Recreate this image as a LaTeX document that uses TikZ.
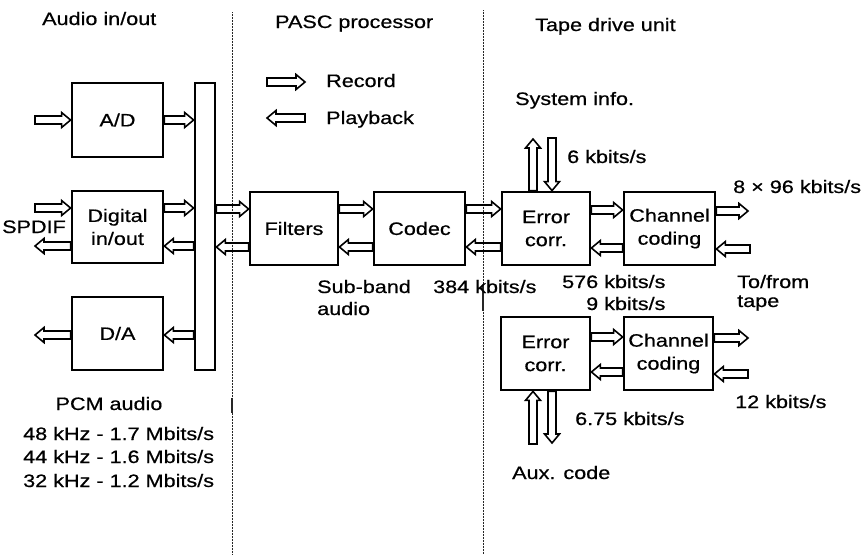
\documentclass[tikz,border=0pt]{standalone}
\usepackage{fontspec}
\setmainfont{Liberation Sans}[FakeStretch=1.2, FakeBold=0.6]
\usetikzlibrary{calc}
\newcommand\lblfont{\fontsize{18}{23}\selectfont}
\newcommand\arsw{4pt}
\newcommand\arhw{7.5pt}
\newcommand\arhl{9pt}
\tikzset{
  box/.style={draw, line width=2.8pt, inner sep=0pt, align=center, font=\lblfont},
  txt/.style={inner sep=0pt, font=\lblfont, anchor=base west},
  divider/.style={line width=0.9pt, black!85, dash pattern=on 0.8pt off 0.7pt},
  harrow/.style={line width=1.6pt, line join=miter, to path={
    ($(\tikztostart)+(0pt,\arsw)$) --
    ($(\tikztotarget)!\arhl!(\tikztostart)+(0pt,\arsw)$) --
    ($(\tikztotarget)!\arhl!(\tikztostart)+(0pt,\arhw)$) --
    (\tikztotarget) --
    ($(\tikztotarget)!\arhl!(\tikztostart)+(0pt,-\arhw)$) --
    ($(\tikztotarget)!\arhl!(\tikztostart)+(0pt,-\arsw)$) --
    ($(\tikztostart)+(0pt,-\arsw)$) -- cycle}},
  varrow/.style={line width=1.6pt, line join=miter, to path={
    ($(\tikztostart)+(\arsw,0pt)$) --
    ($(\tikztotarget)!\arhl!(\tikztostart)+(\arsw,0pt)$) --
    ($(\tikztotarget)!\arhl!(\tikztostart)+(\arhw,0pt)$) --
    (\tikztotarget) --
    ($(\tikztotarget)!\arhl!(\tikztostart)+(-\arhw,0pt)$) --
    ($(\tikztotarget)!\arhl!(\tikztostart)+(-\arsw,0pt)$) --
    ($(\tikztostart)+(-\arsw,0pt)$) -- cycle}}
}
\begin{document}
\begin{tikzpicture}[x=1pt,y=-1pt]
\useasboundingbox (0,0) rectangle (864,554);

% dividers
\draw[divider] (232,12) -- (232,554);
\draw[divider] (483,10) -- (483,554);
\draw[line width=1.5pt, black!85] (232,398) -- (232,413);
\draw[line width=1.3pt, black!85] (483,286) -- (483,311);

% titles
\node[txt] (tAudio) at (42,25) {Audio in/out};
\node[txt] (tPasc) at (275,28) {PASC processor};
\node[txt] (tTape) at (535,31) {Tape drive unit};

% legend
\coordinate (recA) at (267,82);
\coordinate (recB) at (305,82);
\coordinate (plA) at (305,118);
\coordinate (plB) at (267,118);
\draw[harrow] (recA) to (recB);
\draw[harrow] (plA) to (plB);
\node[txt] (tRec) at (326,87) {Record};
\node[txt] (tPlay) at (326,124) {Playback};

% boxes
\node[box, minimum width=91pt, minimum height=74pt] (ad) at (117.5,120) {A/D};
\node[box, minimum width=91pt, minimum height=72pt] (dig) at (117.5,227) {Digital\\in/out};
\node[box, minimum width=91pt, minimum height=73pt] (da) at (117.5,333.5) {D/A};
\node[draw, line width=2.8pt, inner sep=0pt, minimum width=20pt, minimum height=287pt] (bus) at (205,226.5) {};
\node[box, minimum width=88pt, minimum height=73pt] (filt) at (294,228.5) {Filters};
\node[box, minimum width=91pt, minimum height=73pt] (codec) at (419.5,228.5) {Codec};
\node[box, minimum width=88pt, minimum height=73pt] (ec1) at (546,228.5) {Error\\corr.};
\node[box, minimum width=91pt, minimum height=73pt] (cc1) at (669.5,228.5) {Channel\\coding};
\node[box, minimum width=89pt, minimum height=73pt] (ec2) at (545.5,353.5) {Error\\corr.};
\node[box, minimum width=89pt, minimum height=73pt] (cc2) at (668.5,353.5) {Channel\\coding};

% coordinates for arrow ends
\coordinate (adin) at (35,120);
\coordinate (adbus) at (ad.east -| bus.west);
\coordinate (digin) at (35,208);
\coordinate (digwA) at (digin -| dig.west);
\coordinate (digout) at (35,246);
\coordinate (digwB) at (digout -| dig.west);
\coordinate (digeA) at (digin -| dig.east);
\coordinate (digeB) at (digout -| dig.east);
\coordinate (buswA) at (digin -| bus.west);
\coordinate (buswB) at (digout -| bus.west);
\coordinate (buseA) at (0,209 -| bus.east);
\coordinate (buseB) at (0,247 -| bus.east);
\coordinate (filwA) at (buseA -| filt.west);
\coordinate (filwB) at (buseB -| filt.west);
\coordinate (fileA) at (buseA -| filt.east);
\coordinate (fileB) at (buseB -| filt.east);
\coordinate (codwA) at (buseA -| codec.west);
\coordinate (codwB) at (buseB -| codec.west);
\coordinate (codeA) at (buseA -| codec.east);
\coordinate (codeB) at (buseB -| codec.east);
\coordinate (ec1wA) at (buseA -| ec1.west);
\coordinate (ec1wB) at (buseB -| ec1.west);
\coordinate (ec1eA) at (0,210 -| ec1.east);
\coordinate (ec1eB) at (0,248 -| ec1.east);
\coordinate (cc1wA) at (ec1eA -| cc1.west);
\coordinate (cc1wB) at (ec1eB -| cc1.west);
\coordinate (cc1eA) at (0,211 -| cc1.east);
\coordinate (cc1out) at (748,211);
\coordinate (cc1in) at (750,249);
\coordinate (cc1eB) at (cc1in -| cc1.east);
\coordinate (ec1nA) at (533,0 |- ec1.north);
\coordinate (ec1up) at (533,139);
\coordinate (ec1dn) at (552,138);
\coordinate (ec1nB) at (ec1dn |- ec1.north);
\coordinate (ec2eA) at (0,337 -| ec2.east);
\coordinate (ec2eB) at (0,372 -| ec2.east);
\coordinate (cc2wA) at (ec2eA -| cc2.west);
\coordinate (cc2wB) at (ec2eB -| cc2.west);
\coordinate (cc2eA) at (0,338 -| cc2.east);
\coordinate (cc2out) at (748,338);
\coordinate (cc2in) at (748,374);
\coordinate (cc2eB) at (cc2in -| cc2.east);
\coordinate (ec2up) at (533,444);
\coordinate (ec2sA) at (ec2up |- ec2.south);
\coordinate (ec2dn) at (552,443);
\coordinate (ec2sB) at (ec2dn |- ec2.south);
\coordinate (dabus) at (0,335 -| bus.west);
\coordinate (daeast) at (0,335 -| da.east);
\coordinate (dawest) at (0,335 -| da.west);
\coordinate (daout) at (35,335);

% arrows
\draw[harrow] (adin) to (ad.west);
\draw[harrow] (ad.east) to (adbus);
\draw[harrow] (digin) to (digwA);
\draw[harrow] (digwB) to (digout);
\draw[harrow] (digeA) to (buswA);
\draw[harrow] (buswB) to (digeB);
\draw[harrow] (buseA) to (filwA);
\draw[harrow] (filwB) to (buseB);
\draw[harrow] (fileA) to (codwA);
\draw[harrow] (codwB) to (fileB);
\draw[harrow] (codeA) to (ec1wA);
\draw[harrow] (ec1wB) to (codeB);
\draw[harrow] (ec1eA) to (cc1wA);
\draw[harrow] (cc1wB) to (ec1eB);
\draw[harrow] (cc1eA) to (cc1out);
\draw[harrow] (cc1in) to (cc1eB);
\draw[varrow] (ec1nA) to (ec1up);
\draw[varrow] (ec1dn) to (ec1nB);
\draw[harrow] (ec2eA) to (cc2wA);
\draw[harrow] (cc2wB) to (ec2eB);
\draw[harrow] (cc2eA) to (cc2out);
\draw[harrow] (cc2in) to (cc2eB);
\draw[varrow] (ec2up) to (ec2sA);
\draw[varrow] (ec2sB) to (ec2dn);
\draw[harrow] (dabus) to (daeast);
\draw[harrow] (dawest) to (daout);

% labels
\node[txt] (tSpdif) at (2,233) {SPDIF};
\node[txt, anchor=base] (tPcm) at (109,410) {PCM audio};
\node[txt] (tR48) at (23,440) {48 kHz - 1.7 Mbits/s};
\node[txt] (tR44) at (23,463) {44 kHz - 1.6 Mbits/s};
\node[txt] (tR32) at (23,487) {32 kHz - 1.2 Mbits/s};
\node[txt] (tSub) at (317,293) {Sub-band};
\node[txt] (tSubB) at (317,315) {audio};
\node[txt] (t384) at (433,293) {384 kbits/s};
\node[txt] (tSys) at (515,105) {System info.};
\node[txt] (t6) at (567,163) {6 kbits/s};
\node[txt] (t896) at (733,193) {8 × 96 kbits/s};
\node[txt] (t576) at (562,288) {576 kbits/s};
\node[txt] (t9) at (586,310) {9 kbits/s};
\node[txt] (tTo) at (737,288) {To/from};
\node[txt] (tTape2) at (737,307) {tape};
\node[txt] (t12) at (735,408) {12 kbits/s};
\node[txt] (t675) at (575,425) {6.75 kbits/s};
\node[txt] (tAux) at (512,479) {Aux. code};
\end{tikzpicture}
\end{document}
